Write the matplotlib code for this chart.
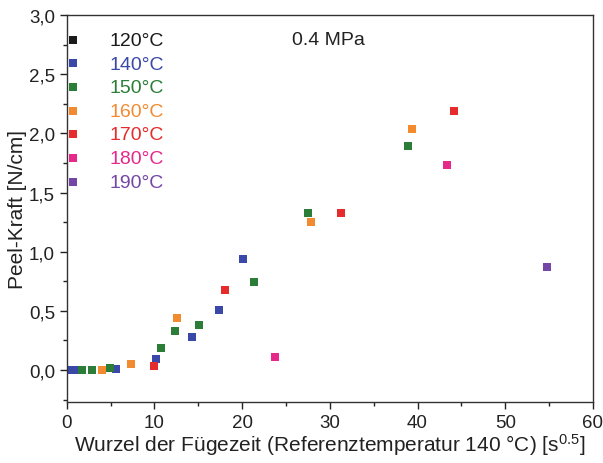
import matplotlib
matplotlib.use("Agg")
import matplotlib.pyplot as plt
from matplotlib.ticker import MultipleLocator, FuncFormatter

plt.rcParams['font.family'] = ['Liberation Sans', 'DejaVu Sans']
plt.rcParams['mathtext.default'] = 'regular'

# data
labels = ['120°C', '140°C', '150°C', '160°C', '170°C', '180°C', '190°C']
colors = ['#1a1a1a', '#3a48a8', '#2b7d38', '#f28b30', '#e52b2b', '#e5288a', '#7446a6']

x120 = []
y120 = []
x140 = [0.3, 0.8, 5.6, 10.2, 14.3, 17.4, 20.1]
y140 = [0.0, 0.0, 0.01, 0.09, 0.28, 0.51, 0.94]
x150 = [1.7, 2.85, 4.9, 10.8, 12.4, 15.1, 21.35, 27.55, 38.9]
y150 = [0.0, 0.0, 0.02, 0.19, 0.33, 0.38, 0.74, 1.33, 1.89]
x160 = [4.0, 7.3, 12.55, 27.9, 39.4]
y160 = [0.0, 0.05, 0.44, 1.25, 2.04]
x170 = [10.0, 18.1, 31.3, 44.2]
y170 = [0.03, 0.68, 1.33, 2.19]
x180 = [23.8, 43.4]
y180 = [0.11, 1.73]
x190 = [54.8]
y190 = [0.87]

xs = [x120, x140, x150, x160, x170, x180, x190]
ys = [y120, y140, y150, y160, y170, y180, y190]

fig = plt.figure(figsize=(6.03, 4.64), dpi=100)
ax = fig.add_axes([0.1106, 0.1315, 0.8728, 0.8340])

for xv, yv, c, lab in zip(xs, ys, colors, labels):
    ax.plot(xv, yv, 's', color=c, markersize=5.8, markeredgewidth=0, label=lab)

ax.set_xlim(0, 60)
ax.set_ylim(-0.27, 3.0)
ax.xaxis.set_major_locator(MultipleLocator(10))
ax.xaxis.set_minor_locator(MultipleLocator(5))
ax.yaxis.set_major_locator(MultipleLocator(0.5))
ax.yaxis.set_minor_locator(MultipleLocator(0.25))
ax.yaxis.set_major_formatter(FuncFormatter(lambda v, p: f"{v:.1f}".replace('.', ',')))
ax.tick_params(which='both', direction='out', top=False, right=False,
               labelsize=13.5, colors='#222222', width=1)
ax.tick_params(which='major', length=5)
ax.tick_params(which='minor', length=3)
for s in ax.spines.values():
    s.set_color('#333333')
    s.set_linewidth(1)

ax.set_xlabel('Wurzel der Fügezeit (Referenztemperatur 140 °C) [s$^{0.5}$]',
              fontsize=15, color='#222222', labelpad=0)
ax.set_ylabel('Peel-Kraft [N/cm]', fontsize=15, color='#222222', labelpad=1)

ax.text(0.428, 0.938, '0.4 MPa', transform=ax.transAxes, fontsize=14,
        color='#222222', va='center', ha='left')

leg = ax.legend(loc='upper left', frameon=False, fontsize=14, handlelength=0.4,
                handleheight=0.15, handletextpad=1.7, labelspacing=0.34, borderpad=0,
                borderaxespad=0.12, bbox_to_anchor=(0.0, 0.962), labelcolor='linecolor')

fig.savefig('out.png', dpi=100)
